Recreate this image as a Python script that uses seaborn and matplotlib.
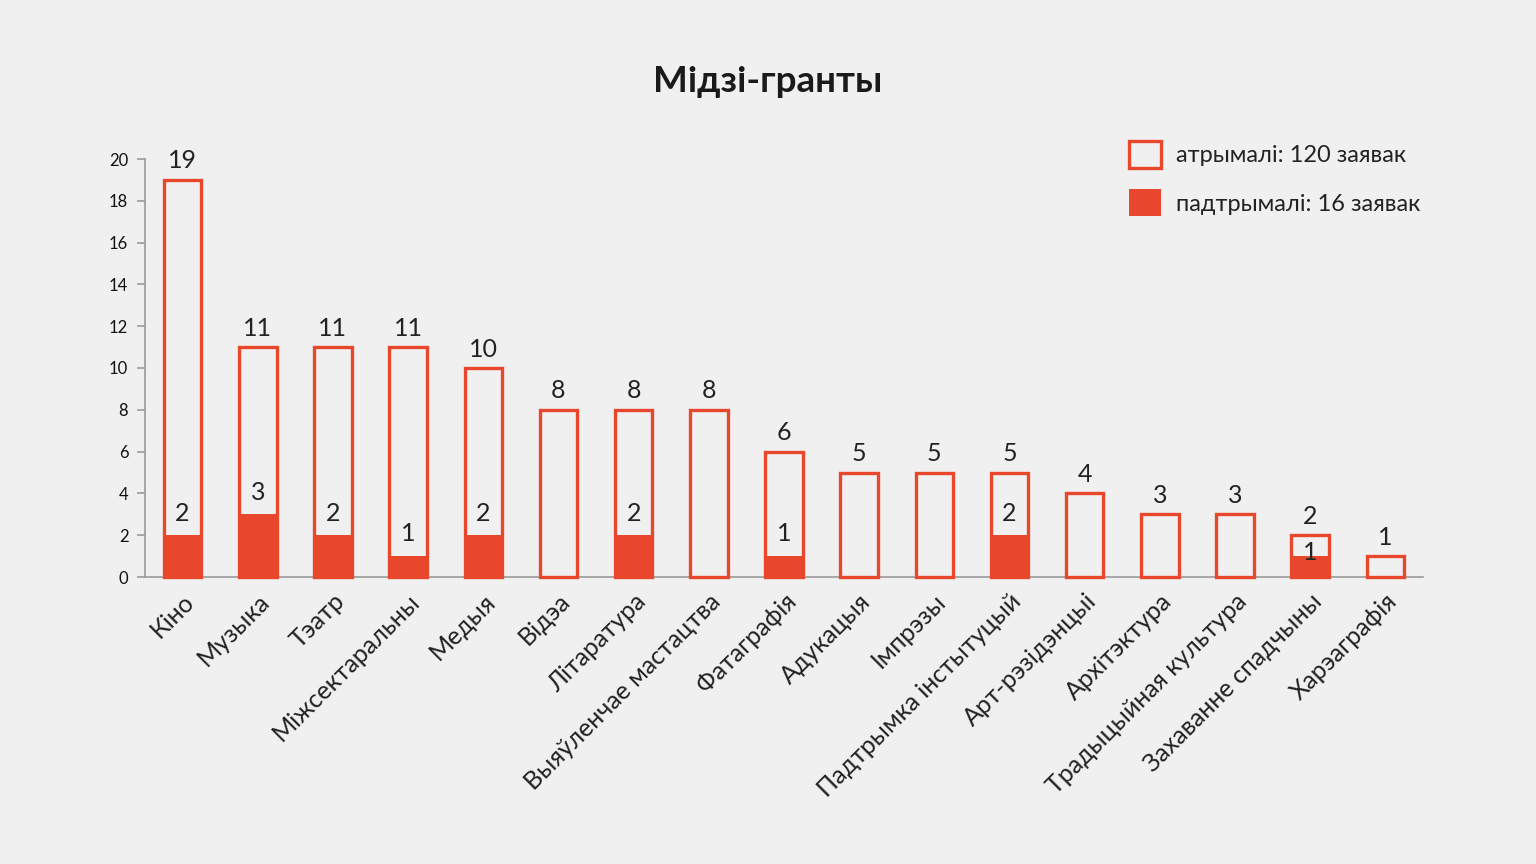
import matplotlib
matplotlib.use("Agg")
import matplotlib.pyplot as plt
import seaborn as sns
import pandas as pd
from matplotlib.patches import Patch

categories = ["Кіно", "Музыка", "Тэатр", "Міжсектаральны", "Медыя", "Відэа",
              "Літаратура", "Выяўленчае мастацтва", "Фатаграфія", "Адукацыя",
              "Імпрэзы", "Падтрымка інстытуцый", "Арт-рэзідэнцыі", "Архітэктура",
              "Традыцыйная культура", "Захаванне спадчыны", "Харэаграфія"]
received = [19, 11, 11, 11, 10, 8, 8, 8, 6, 5, 5, 5, 4, 3, 3, 2, 1]
supported = [2, 3, 2, 1, 2, 0, 2, 0, 1, 0, 0, 2, 0, 0, 0, 1, 0]
yticks = list(range(0, 21, 2))
title = "Мідзі-гранты"
legend_labels = ["атрымалі: 120 заявак", "падтрымалі: 16 заявак"]

RED = "#e8472b"
BG = "#f0f0f0"

sns.set_theme(style="white")
plt.rcParams["font.family"] = ["Lato", "Noto Sans", "DejaVu Sans"]

df = pd.DataFrame({"cat": categories, "received": received, "supported": supported})

fig = plt.figure(figsize=(15.36, 8.64), dpi=100, facecolor=BG)
ax = fig.add_axes([145/1536, 1-577/864, (1423-145)/1536, (577-159)/864])
ax.set_facecolor(BG)

sns.barplot(data=df, x="cat", y="received", ax=ax, width=0.5,
            facecolor=BG, edgecolor=RED, linewidth=2.4, errorbar=None)
sns.barplot(data=df, x="cat", y="supported", ax=ax, width=0.5,
            color=RED, edgecolor=RED, linewidth=0, saturation=1, errorbar=None)
for p in ax.patches:
    p.set_clip_on(False)
    p.set_zorder(3)

ax.set_xlim(-0.5, len(categories) - 0.5)
ax.set_ylim(0, 20)
ax.set_yticks(yticks)
ax.set_xlabel("")
ax.set_ylabel("")

for sp in ["top", "right"]:
    ax.spines[sp].set_visible(False)
for sp in ["left", "bottom"]:
    ax.spines[sp].set_color("#9a9a9a")
    ax.spines[sp].set_linewidth(1.2)
    ax.spines[sp].set_zorder(1)

ax.tick_params(axis="y", which="major", left=True, length=6, width=1.2,
               color="#9a9a9a", labelsize=12, labelcolor="#111111", pad=6)
ax.tick_params(axis="x", length=0, pad=9)
plt.setp(ax.get_xticklabels(), rotation=45, ha="right", rotation_mode="anchor",
         fontsize=18, color="#222222")

for i, (t, s) in enumerate(zip(received, supported)):
    ax.text(i, t + 0.55, str(t), ha="center", va="baseline", fontsize=18,
            color="#222222", zorder=5)
    if s > 0:
        ys = min(s + 0.7, t - 1.2)
        ax.text(i, ys, str(s), ha="center", va="baseline", fontsize=18,
                color="#222222", zorder=5)

fig.text(0.5, 1 - 82/864, title, ha="center", va="center", fontsize=26.5,
         fontweight="bold", color="#1a1a1a")

handles = [Patch(facecolor=BG, edgecolor=RED, linewidth=2.4),
           Patch(facecolor=RED, edgecolor=RED, linewidth=0)]
fig.legend(handles, legend_labels, loc="upper left",
           bbox_to_anchor=(1129/1536, 1 - 141/864), frameon=False,
           fontsize=17, handlelength=1.36, handleheight=1.36,
           handletextpad=0.62, labelspacing=0.92, borderaxespad=0,
           borderpad=0, labelcolor="#222222")

fig.savefig("out.png", dpi=100, facecolor=BG)
